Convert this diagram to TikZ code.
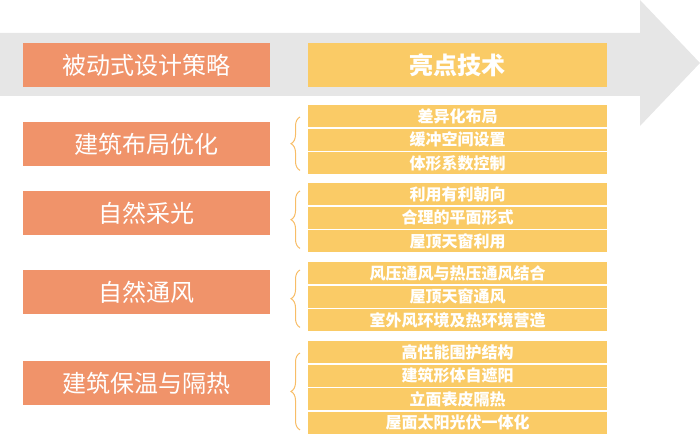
\documentclass[tikz,border=0pt]{standalone}
\usepackage{fontspec}
\setmainfont{Noto Sans CJK SC}
\usetikzlibrary{positioning,decorations.pathreplacing}
\definecolor{stageorange}{HTML}{F0936A}
\definecolor{techyellow}{HTML}{FACB66}
\definecolor{bandgrey}{HTML}{E6E6E6}
\tikzset{
  stage/.style={fill=stageorange,text=white,minimum width=247pt,minimum height=44pt,inner sep=0pt,font=\fontsize{24}{24}\selectfont,anchor=north west},
  tech/.style={fill=techyellow,text=white,minimum width=299pt,minimum height=22pt,inner sep=0pt,font=\fontsize{16}{16}\selectfont\bfseries,anchor=north west},
  bracket/.style={draw=techyellow!75!stageorange,line width=1pt,decorate,decoration={brace,mirror,amplitude=9pt}}
}
\begin{document}
\begin{tikzpicture}[x=1pt,y=-1pt]
    \useasboundingbox (0,0) rectangle (700,438);
    % Arrow band
    \fill[bandgrey] (0,33) -- (640,33) -- (640,0) -- (700,63) -- (640,126) -- (640,96) -- (0,96) -- cycle;

    % Header
    \node[stage] (head-left) at (23,43) {被动式设计策略};
    \node[tech,minimum height=44pt,font=\fontsize{24}{24}\selectfont\bfseries] (head-right) at (308,43) {亮点技术};

    % Stages
    \node[stage] (layout) at (23,122) {建筑布局优化};
    \node[stage] (daylight) at (23,191) {自然采光};
    \node[stage] (ventilation) at (23,270) {自然通风};
    \node[stage] (insulation) at (23,361) {建筑保温与隔热};

    % Techniques
    \node[tech] (layout-1) at (308,105) {差异化布局};
    \node[tech] (layout-2) at (308,128.5) {缓冲空间设置};
    \node[tech] (layout-3) at (308,152) {体形系数控制};

    \node[tech] (daylight-1) at (308,183) {利用有利朝向};
    \node[tech] (daylight-2) at (308,206.5) {合理的平面形式};
    \node[tech] (daylight-3) at (308,230) {屋顶天窗利用};

    \node[tech] (ventilation-1) at (308,262) {风压通风与热压通风结合};
    \node[tech] (ventilation-2) at (308,285.5) {屋顶天窗通风};
    \node[tech] (ventilation-3) at (308,309) {室外风环境及热环境营造};

    \node[tech] (insulation-1) at (308,341) {高性能围护结构};
    \node[tech] (insulation-2) at (308,364.5) {建筑形体自遮阳};
    \node[tech] (insulation-3) at (308,388) {立面表皮隔热};
    \node[tech] (insulation-4) at (308,411.5) {屋面太阳光伏一体化};

    % Braces
    \draw[bracket] ([xshift=-8pt,yshift=-12pt]layout-1.north west) -- ([xshift=-8pt,yshift=4pt]layout-3.south west);
    \draw[bracket] ([xshift=-8pt,yshift=-8pt]daylight-1.north west) -- ([xshift=-8pt,yshift=4pt]daylight-3.south west);
    \draw[bracket] ([xshift=-8pt,yshift=-8pt]ventilation-1.north west) -- ([xshift=-8pt,yshift=4pt]ventilation-3.south west);
    \draw[bracket] ([xshift=-8pt,yshift=-12pt]insulation-1.north west) -- ([xshift=-8pt,yshift=4pt]insulation-4.south west);
\end{tikzpicture}
\end{document}
